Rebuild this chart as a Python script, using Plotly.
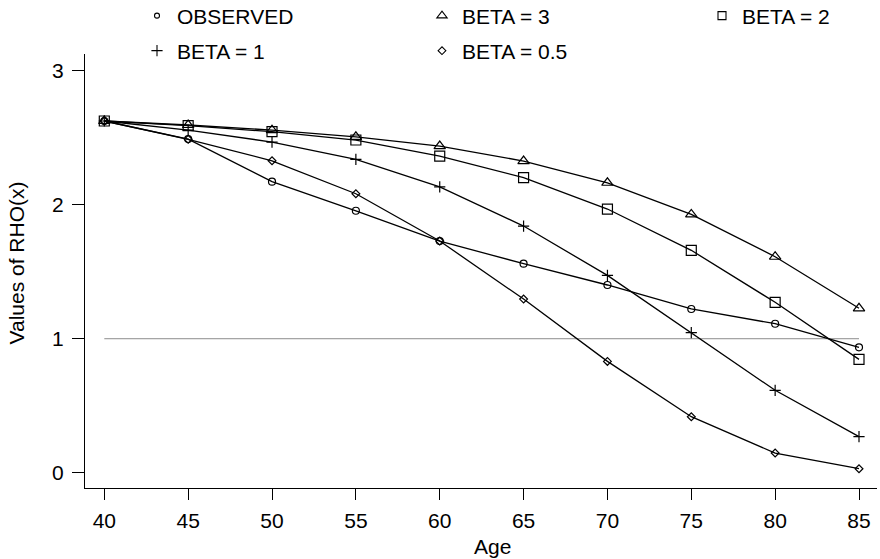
import plotly.graph_objects as go

ages = [40, 45, 50, 55, 60, 65, 70, 75, 80, 85]
observed = [2.625, 2.49, 2.172, 1.955, 1.729, 1.560, 1.401, 1.222, 1.112, 0.936]
beta3 = [2.625, 2.595, 2.557, 2.507, 2.438, 2.326, 2.164, 1.928, 1.612, 1.227]
beta2 = [2.625, 2.59, 2.545, 2.483, 2.363, 2.202, 1.968, 1.660, 1.272, 0.846]
beta1 = [2.625, 2.557, 2.468, 2.339, 2.134, 1.841, 1.473, 1.045, 0.615, 0.269]
beta05 = [2.625, 2.488, 2.328, 2.082, 1.729, 1.296, 0.831, 0.418, 0.147, 0.030]
ref_x = [40, 85]
ref_y = [1, 1]

x_ticks = [40, 45, 50, 55, 60, 65, 70, 75, 80, 85]
y_ticks = [0, 1, 2, 3]

FONT = "Liberation Sans, Arial, Helvetica, sans-serif"
W, H = 880, 559
ML, MR, MT, MB = 85, 3, 54, 71
PW, PH = W - ML - MR, H - MT - MB


def px_x(px):
    return (px - ML) / PW


def px_y(py):
    return (H - MB - py) / PH


series = [
    ("OBSERVED", observed, "circle-open", 7, 5, "legend"),
    ("BETA = 3", beta3, "triangle-up-open", 10, 9, "legend2"),
    ("BETA = 2", beta2, "square-open", 10, 8, "legend3"),
    ("BETA = 1", beta1, "cross-thin-open", 8, 8, "legend4"),
    ("BETA = 0.5", beta05, "diamond-open", 6, 6, "legend5"),
]

fig = go.Figure()

fig.add_trace(go.Scatter(x=ref_x, y=ref_y, mode="lines",
                         line=dict(color="#8c8c8c", width=1),
                         showlegend=False, hoverinfo="skip"))

for name, vals, sym, size, lsize, leg in series:
    fig.add_trace(go.Scatter(
        x=ages, y=vals, mode="lines+markers", name=name,
        line=dict(color="black", width=1.3),
        marker=dict(symbol=sym, size=size, color="black",
                    line=dict(color="black", width=1.2)),
        showlegend=False))
    fig.add_trace(go.Scatter(
        x=[None], y=[None], mode="markers", name=name,
        marker=dict(symbol=sym, size=lsize, color="black",
                    line=dict(color="black", width=1.1)),
        showlegend=True, legend=leg))

leg_pos = {
    "legend": (137, 16),
    "legend2": (422, 16),
    "legend3": (702, 16),
    "legend4": (137, 51),
    "legend5": (422, 51),
}
legend_layout = {}
for key, (lx, ly) in leg_pos.items():
    legend_layout[key] = dict(
        x=px_x(lx), y=px_y(ly), xanchor="left", yanchor="middle",
        bgcolor="rgba(0,0,0,0)", borderwidth=0,
        font=dict(family=FONT, size=21, color="black"),
        itemsizing="trace")

fig.update_layout(
    width=W, height=H,
    margin=dict(l=ML, r=MR, t=MT, b=MB, pad=0, autoexpand=False),
    paper_bgcolor="white", plot_bgcolor="white",
    font=dict(family=FONT, size=21, color="black"),
    hovermode=False,
    **legend_layout,
    xaxis=dict(range=[38.849, 86.073], tickvals=x_ticks,
               ticktext=[str(v) for v in x_ticks],
               showgrid=False, zeroline=False, showline=True,
               linecolor="black", linewidth=1, ticks="outside",
               ticklen=11, tickwidth=1, tickcolor="black",
               ticklabelstandoff=3,
               tickfont=dict(family=FONT, size=21, color="black")),
    yaxis=dict(range=[-0.114, 3.125], tickvals=y_ticks,
               ticktext=[str(v) for v in y_ticks],
               showgrid=False, zeroline=False, showline=True,
               linecolor="black", linewidth=1, ticks="outside",
               ticklen=12, tickwidth=1, tickcolor="black",
               ticklabelstandoff=4,
               tickfont=dict(family=FONT, size=21, color="black")),
    annotations=[
        dict(text="Age", xref="paper", yref="paper",
             x=px_x(492.7), y=px_y(546.7), xanchor="center",
             yanchor="middle", showarrow=False,
             font=dict(family=FONT, size=21, color="black")),
        dict(text="Values of RHO(x)", xref="paper", yref="paper",
             x=px_x(16), y=px_y(263.5), xanchor="center",
             yanchor="middle", textangle=-90, showarrow=False,
             font=dict(family=FONT, size=21, color="black")),
    ],
)

# remove the browser's default 8px page margin so the figure fills the window
fig.write_html("out.html",
               config={"displayModeBar": False, "staticPlot": True},
               post_script="document.body.style.margin='0';"
                           "document.body.style.overflow='hidden';")
